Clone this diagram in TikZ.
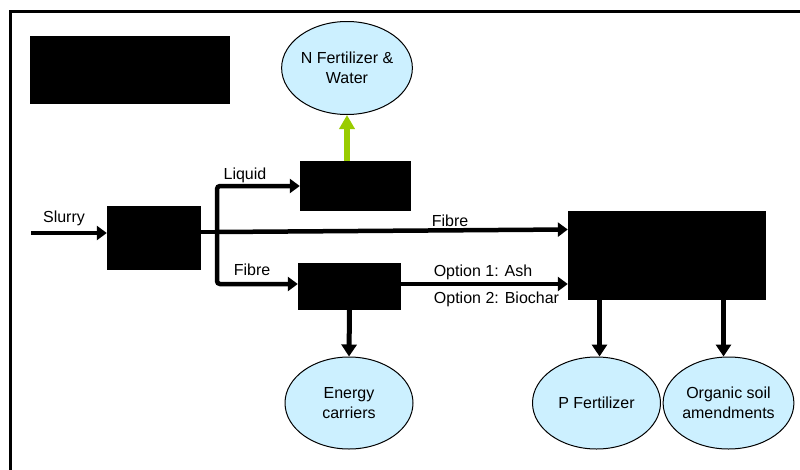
\documentclass[tikz,border=0pt]{standalone}
\usepackage{fontspec}
\setmainfont{Liberation Sans}
\usetikzlibrary{arrows.meta,shapes.geometric}
\definecolor{ellfill}{HTML}{CCF0FF}
\definecolor{greenarr}{HTML}{99CC00}
\begin{document}
\begin{tikzpicture}[x=1pt,y=-1pt,
  every node/.style={font=\fontsize{16}{20}\selectfont},
  blackbox/.style={draw=none,fill=black,inner sep=0pt},
  product/.style={ellipse,draw=black,line width=1pt,fill=ellfill,inner sep=0pt,
    minimum width=128pt,minimum height=92pt,align=center},
  flow/.style={line width=4.5pt,-{Triangle[length=10pt,width=14pt]}},
  plainline/.style={line width=4.5pt},
  downflow/.style={line width=5pt,-{Triangle[length=12pt,width=15pt]}},
  greenflow/.style={line width=6pt,draw=greenarr,-{Triangle[length=14pt,width=15pt]}},
  lbl/.style={anchor=base,inner sep=0pt}
]
\useasboundingbox (0,0) rectangle (800,469);
% frame
\draw[line width=3pt] (10,480) -- (10,11) -- (810,11);
% black boxes
\node[blackbox,minimum width=200pt,minimum height=68pt] (title) at (130,70) {};
\node[blackbox,minimum width=94pt,minimum height=64pt] (sep) at (154,238) {};
\node[blackbox,minimum width=111pt,minimum height=50pt] (liq) at (355.5,186) {};
\node[blackbox,minimum width=103pt,minimum height=47pt] (en) at (349.5,286) {};
\node[blackbox,minimum width=198pt,minimum height=89pt] (big) at (667,255.5) {};
% product ellipses
\node[product,minimum width=130pt,minimum height=93pt] (nf) at (347,68) {N Fertilizer \&\\Water};
\node[product] (ec) at (349,403) {Energy\\carriers};
\node[product] (pf) at (596.5,403) {P Fertilizer};
\node[product] (om) at (728.5,403) {Organic soil\\amendments};
% coordinates
\coordinate (in) at (31,233);
\coordinate (br) at (217,232);
% connectors
\draw[flow] (in) -- ([yshift=5pt]sep.west);
\draw[plainline] ([yshift=6pt]sep.east) -- (br);
\draw[flow] (br) -- ([yshift=26pt]big.west);
\draw[flow,rounded corners=3pt] (br) |- (liq.west);
\draw[flow,rounded corners=3pt] (br) |- ([yshift=2pt]en.west);
\draw[flow] ([yshift=2pt]en.east) -- ([yshift=2pt]en.east -| big.west);
\draw[greenflow] (nf.south |- liq.north) -- (nf.south);
\draw[downflow] (en.south) -- (ec.north);
\draw[downflow] ([xshift=3pt]pf.north |- big.south) -- ([xshift=3pt]pf.north);
\draw[downflow] ([xshift=-5pt]om.north |- big.south) -- ([xshift=-5pt]om.north);
% labels
\node[lbl] (lslurry) at (64,222) {Slurry};
\node[lbl] (lliquid) at (245,179) {Liquid};
\node[lbl] (lfibre1) at (450,226) {Fibre};
\node[lbl] (lfibre2) at (252,275) {Fibre};
\node[lbl] (lopt1) at (483,276) {Option 1: Ash};
\node[lbl] (lopt2) at (496.5,303) {Option 2: Biochar};
\end{tikzpicture}
\end{document}
